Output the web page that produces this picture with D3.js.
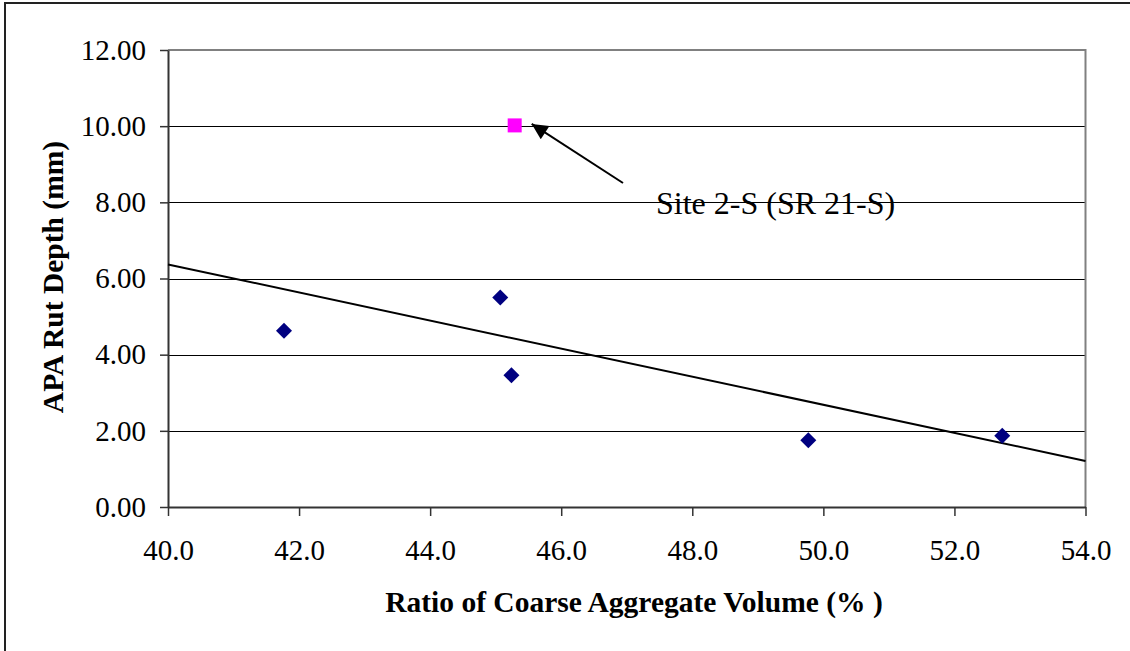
<!DOCTYPE html>
<html>
<head>
<meta charset="utf-8">
<script src="https://cdn.jsdelivr.net/npm/d3@7"></script>
<style>
  html, body { margin: 0; padding: 0; background: #fff; }
  svg { display: block; }
  text { font-family: "Liberation Serif", "Times New Roman", serif; fill: #000; }
</style>
</head>
<body>
<svg id="chart" width="1130" height="651"></svg>
<script>
// Coarse aggregate volume ratio (%) vs APA rut depth (mm)
const coarseRatio = [41.77, 45.07, 45.24, 49.77, 52.73];
const rutDepth    = [4.63, 5.50, 3.46, 1.75, 1.87];

// Outlying site, plotted separately
const siteRatio = [45.29];
const siteDepth = [10.02];
const siteLabel = "Site 2-S (SR 21-S)";

// Linear trend line end points
const trendRatio = [40, 54];
const trendDepth = [6.37, 1.21];

const xTicks = [40, 42, 44, 46, 48, 50, 52, 54];
const yTicks = [0, 2, 4, 6, 8, 10, 12];

const xTitle = "Ratio of Coarse Aggregate Volume (% )";
const yTitle = "APA Rut Depth (mm)";

const svg = d3.select("#chart");

const plot = { left: 168, right: 1085.5, top: 50, bottom: 507 };

const x = d3.scaleLinear().domain([40, 54]).range([plot.left, plot.right]);
const y = d3.scaleLinear().domain([0, 12]).range([plot.bottom, plot.top]);

// Outer chart frame
svg.append("rect")
  .attr("x", 5).attr("y", 3)
  .attr("width", 1140).attr("height", 680)
  .attr("fill", "#fff")
  .attr("stroke", "#222").attr("stroke-width", 2);

// Horizontal gridlines
svg.append("g")
  .selectAll("line")
  .data(yTicks.filter(v => v > 0 && v < 12))
  .join("line")
  .attr("x1", plot.left).attr("x2", plot.right)
  .attr("y1", d => Math.round(y(d)) + 0.5).attr("y2", d => Math.round(y(d)) + 0.5)
  .attr("stroke", "#000").attr("stroke-width", 1);

// Plot area border (top and right, grey)
svg.append("path")
  .attr("d", `M${plot.left},${plot.top}H${plot.right}V${plot.bottom}`)
  .attr("fill", "none").attr("stroke", "#808080").attr("stroke-width", 2);

// Axes
const xAxis = d3.axisBottom(x)
  .tickValues(xTicks)
  .tickSize(9)
  .tickSizeOuter(0)
  .tickPadding(23)
  .tickFormat(d3.format(".1f"));

const yAxis = d3.axisLeft(y)
  .tickValues(yTicks)
  .tickSize(8)
  .tickSizeOuter(0)
  .tickPadding(14)
  .tickFormat(d3.format(".2f"));

const gx = svg.append("g")
  .attr("transform", `translate(0,${plot.bottom})`)
  .call(xAxis);

const gy = svg.append("g")
  .attr("transform", `translate(${plot.left},0)`)
  .call(yAxis);

[gx, gy].forEach(g => {
  g.select(".domain").attr("stroke", "#333").attr("stroke-width", 2);
  g.selectAll(".tick line").attr("stroke", "#333").attr("stroke-width", 1.5);
  g.selectAll(".tick text")
    .attr("font-family", "'Liberation Serif', 'Times New Roman', serif")
    .attr("font-size", 29)
    .attr("fill", "#000");
});

// Axis titles
svg.append("text")
  .attr("x", 634).attr("y", 612)
  .attr("text-anchor", "middle")
  .attr("font-size", 29.5).attr("font-weight", "bold")
  .text(xTitle);

svg.append("text")
  .attr("transform", "translate(63,277) rotate(-90)")
  .attr("text-anchor", "middle")
  .attr("font-size", 29.5).attr("font-weight", "bold")
  .text(yTitle);

// Trend line
const line = d3.line().x(d => x(d[0])).y(d => y(d[1]));
svg.append("path")
  .datum(d3.zip(trendRatio, trendDepth))
  .attr("d", line)
  .attr("fill", "none").attr("stroke", "#000").attr("stroke-width", 2);

// Data points (diamonds)
const diamond = d3.symbol().type(d3.symbolSquare).size(128);
svg.append("g")
  .selectAll("path")
  .data(d3.zip(coarseRatio, rutDepth))
  .join("path")
  .attr("d", diamond)
  .attr("transform", d => `translate(${x(d[0])},${y(d[1])}) rotate(45)`)
  .attr("fill", "#000080");

// Outlier (magenta square)
svg.append("g")
  .selectAll("rect")
  .data(d3.zip(siteRatio, siteDepth))
  .join("rect")
  .attr("x", d => x(d[0]) - 7).attr("y", d => y(d[1]) - 7)
  .attr("width", 14).attr("height", 14)
  .attr("fill", "#ff00ff");

// Annotation arrow pointing at the outlier
const defs = svg.append("defs");
defs.append("marker")
  .attr("id", "arrowHead")
  .attr("viewBox", "0 0 10 10")
  .attr("refX", 10).attr("refY", 5)
  .attr("markerWidth", 10).attr("markerHeight", 8)
  .attr("markerUnits", "strokeWidth")
  .attr("orient", "auto")
  .append("path")
  .attr("d", "M0,0L10,5L0,10Z")
  .attr("fill", "#000");

const tip = [x(siteRatio[0]) + 17, y(siteDepth[0]) - 1.5];
svg.append("line")
  .attr("x1", 623).attr("y1", 183)
  .attr("x2", tip[0]).attr("y2", tip[1])
  .attr("stroke", "#000").attr("stroke-width", 2)
  .attr("marker-end", "url(#arrowHead)");

svg.append("text")
  .attr("x", 656).attr("y", 214)
  .attr("font-size", 32)
  .text(siteLabel);
</script>
</body>
</html>
